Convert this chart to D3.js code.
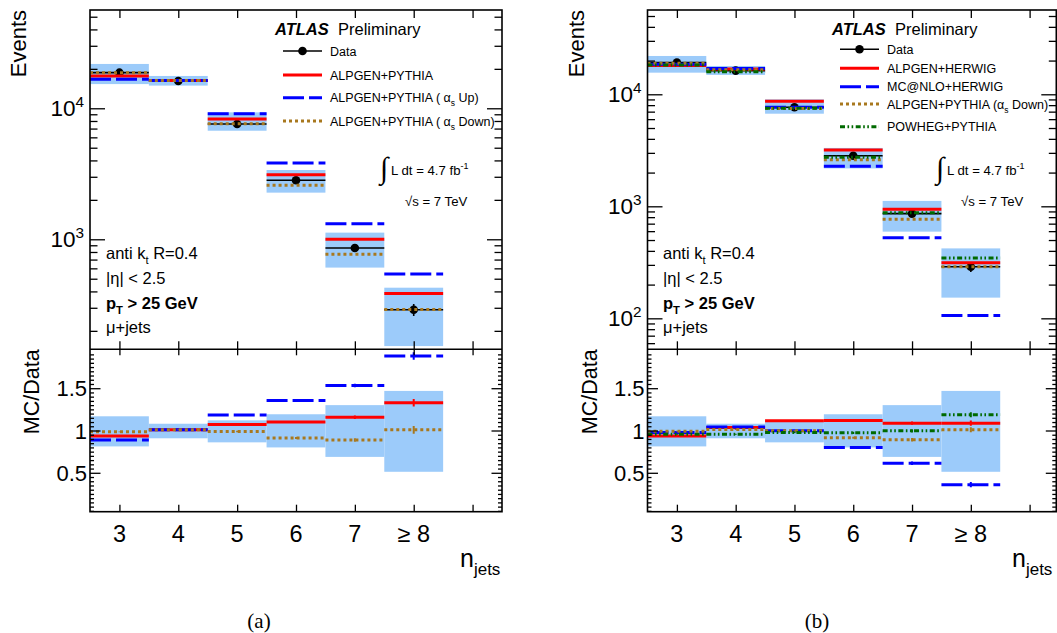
<!DOCTYPE html>
<html><head><meta charset="utf-8">
<script src="https://cdn.jsdelivr.net/npm/d3@7"></script>
<style>
body{margin:0;background:#fff}
svg{display:block}
text{font-family:"Liberation Sans",Arial,Helvetica,sans-serif;fill:#000}
</style>
</head><body>
<svg id="c" width="1057" height="633"></svg>
<script>
// ---------------- DATA ----------------
const binLabels  = ["3","4","5","6","7","\u2265 8"];
const binCenters = [3,4,5,6,7,8];
const xTickValues = [3,4,5,6,7,8,9];
const ratioTickValues = [0.5,1,1.5];
const ratioTickLabels = ["0.5","1","1.5"];

// Panel (a): ALPGEN+PYTHIA and alpha_s variations
const dataA        = [18700,16150,7590,2820,859,290];
const dataErrA     = [140,130,90,55,30,30];
const bandHiA      = [21800,17650,9310,3380,1124,427];
const bandLoA      = [15300,14900,6740,2270,608,153];
const alpPythA     = [17650,16300,8280,3110,1000,385];
const alphaUpA     = [16650,16300,9100,3820,1316,543];
const alphaDownA   = [18700,16300,7620,2580,768,291];

const rBandHi      = [1.168,1.08,1.12,1.192,1.30,1.468];
const rBandLo      = [0.812,0.908,0.86,0.80,0.688,0.512];
const rAlpPythA    = [0.936,1.008,1.072,1.10,1.156,1.328];
const rAlphaUpA    = [0.888,1.008,1.184,1.356,1.532,1.88];
const rAlphaDownA  = [0.984,1.008,0.988,0.912,0.888,1.008];
const rErrA        = [0.005,0.005,0.008,0.012,0.02,0.045];

// Panel (b): generator comparison
const dataB        = [19170,16270,7660,2830,861,289];
const dataErrB     = [140,130,90,55,30,30];
const bandHiB      = [21980,17900,9020,3320,1117,421];
const bandLoB      = [15600,14890,6710,2180,594,153];
const alpHerwB     = [18030,16830,8660,3185,940,314];
const mcnloB       = [18530,16950,7660,2275,525,106];
const alphaDownB   = [18930,16600,7450,2600,765,289];
const powhegB      = [18280,15920,7500,2740,878,346];

const rAlpHerwB    = [0.936,1.036,1.116,1.118,1.087,1.087];
const rMcnloB      = [0.976,1.04,0.996,0.80,0.613,0.36];
const rAlphaDownB  = [0.992,1.012,0.996,0.913,0.89,1.008];
const rPowhegB     = [0.956,0.956,0.976,0.972,0.996,1.186];
const rErrB        = [0.005,0.005,0.008,0.012,0.02,0.03];

// ---------------- STYLES ----------------
const ST = {
  red:   {stroke:"#ff0000", width:3, dash:null},
  blue:  {stroke:"#0000ff", width:3, dash:"21,5"},
  brown: {stroke:"#a8781e", width:3, dash:"3,3"},
  green: {stroke:"#006a00", width:3, dash:"5,2.5,1.6,2.5,1.6,2.5"}
};
const BAND = "#9ccbfa";

const svg = d3.select("#c");

function rich(g, x, y, parts, size, opts={}) {
  const t = g.append("text").attr("x",x).attr("y",y).attr("font-size",size)
    .attr("text-anchor", opts.anchor||"start");
  if (opts.weight) t.attr("font-weight",opts.weight);
  if (opts.style) t.attr("font-style",opts.style);
  if (opts.family) t.style("font-family",opts.family);
  let off = 0;
  parts.forEach(p => {
    const s = typeof p === "string" ? {t:p} : p;
    let target = 0, fs = size;
    if (s.sub) { target = size*0.32; fs = size*0.68; }
    if (s.sup) { target = -size*0.42; fs = size*0.68; }
    const ts = t.append("tspan").text(s.t).attr("font-size",fs).attr("dy", target-off);
    if (s.bold) ts.attr("font-weight","bold");
    off = target;
  });
  return t;
}

function drawPanel(cfg) {
  const g = svg.append("g");
  const x = d3.scaleLinear().domain([2.5,9.5]).range([cfg.left, cfg.xEnd]);
  const y = d3.scaleLog().domain([cfg.yMin,cfg.yMax]).range([cfg.mid,cfg.top]);
  const r = d3.scaleLinear().domain([0.04,1.96]).range([cfg.bottom,cfg.mid]);
  const L = cfg.left, R = cfg.right;

  const clipId = "clip"+cfg.id, clipR = "clipr"+cfg.id;
  g.append("clipPath").attr("id",clipId).append("rect")
    .attr("x",L).attr("y",cfg.top).attr("width",R-L).attr("height",cfg.mid-cfg.top);
  g.append("clipPath").attr("id",clipR).append("rect")
    .attr("x",L).attr("y",cfg.mid).attr("width",R-L).attr("height",cfg.bottom-cfg.mid);

  const up = g.append("g").attr("clip-path",`url(#${clipId})`);
  const lo = g.append("g").attr("clip-path",`url(#${clipR})`);

  // bands
  up.selectAll("rect.band").data(binCenters).join("rect")
    .attr("x",c=>x(c-0.5)).attr("width",c=>x(c+0.5)-x(c-0.5))
    .attr("y",(c,i)=>y(cfg.bandHi[i])).attr("height",(c,i)=>y(cfg.bandLo[i])-y(cfg.bandHi[i]))
    .attr("fill",BAND);
  lo.selectAll("rect.band").data(binCenters).join("rect")
    .attr("x",c=>x(c-0.5)).attr("width",c=>x(c+0.5)-x(c-0.5))
    .attr("y",(c,i)=>r(rBandHi[i])).attr("height",(c,i)=>r(rBandLo[i])-r(rBandHi[i]))
    .attr("fill",BAND);

  // data
  up.selectAll("line.dx").data(binCenters).join("line")
    .attr("x1",c=>x(c-0.5)).attr("x2",c=>x(c+0.5))
    .attr("y1",(c,i)=>y(cfg.data[i])).attr("y2",(c,i)=>y(cfg.data[i]))
    .attr("stroke","#000").attr("stroke-width",1.6);
  up.selectAll("line.dy").data(binCenters).join("line")
    .attr("x1",c=>x(c)).attr("x2",c=>x(c))
    .attr("y1",(c,i)=>y(cfg.data[i]+cfg.dataErr[i])).attr("y2",(c,i)=>y(cfg.data[i]-cfg.dataErr[i]))
    .attr("stroke","#000").attr("stroke-width",1.6);
  up.selectAll("circle.d").data(binCenters).join("circle")
    .attr("cx",c=>x(c)).attr("cy",(c,i)=>y(cfg.data[i])).attr("r",4.3).attr("fill","#000");

  function mcLines(layer, scale, vals, st, errs) {
    const s = layer.append("g");
    s.selectAll("line").data(binCenters).join("line")
      .attr("x1",c=>x(c-0.5)).attr("x2",c=>x(c+0.5))
      .attr("y1",(c,i)=>scale(vals[i])).attr("y2",(c,i)=>scale(vals[i]))
      .attr("stroke",st.stroke).attr("stroke-width",st.width)
      .attr("stroke-dasharray",st.dash);
    if (errs) {
      s.selectAll("line.e").data(binCenters).join("line")
        .attr("x1",c=>x(c)).attr("x2",c=>x(c))
        .attr("y1",(c,i)=>scale(vals[i]+errs[i])).attr("y2",(c,i)=>scale(vals[i]-errs[i]))
        .attr("stroke",st.stroke).attr("stroke-width",2);
    }
  }
  cfg.mc.forEach(m => mcLines(up, y, m.vals, m.st, null));
  cfg.mc.forEach(m => mcLines(lo, r, m.ratio, m.st, cfg.rErr));

  // frame
  const ax = g.append("g");
  ax.append("rect").attr("x",L).attr("y",cfg.top).attr("width",R-L).attr("height",cfg.bottom-cfg.top)
    .attr("fill","none").attr("stroke","#000").attr("stroke-width",1.6);
  ax.append("line").attr("x1",L).attr("x2",R).attr("y1",cfg.mid).attr("y2",cfg.mid)
    .attr("stroke","#000").attr("stroke-width",1.6);

  function axisG(gen, tx, ty) {
    const a = ax.append("g").attr("transform",`translate(${tx},${ty})`).call(gen);
    a.select(".domain").remove();
    a.selectAll("text").remove();
    a.selectAll("line").attr("stroke","#000").attr("stroke-width",1.3);
    return a;
  }
  const xt = xTickValues.filter(v=>x(v)<R);
  axisG(d3.axisTop(x).tickValues(xt).tickSize(-8), 0, cfg.top);
  axisG(d3.axisBottom(x).tickValues(xt).tickSize(-8), 0, cfg.mid);
  axisG(d3.axisTop(x).tickValues(xt).tickSize(-6), 0, cfg.mid);
  axisG(d3.axisBottom(x).tickValues(xt).tickSize(-7), 0, cfg.bottom);

  // log ticks
  const majors = [], minors = [];
  for (let k=1;k<=5;k++) for (let m=1;m<=9;m++) {
    const v = m*Math.pow(10,k);
    if (v<cfg.yMin || v>cfg.yMax) continue;
    (m===1?majors:minors).push(v);
  }
  axisG(d3.axisLeft(y).tickValues(majors).tickSize(-15), L, 0);
  axisG(d3.axisLeft(y).tickValues(minors).tickSize(-7.5), L, 0);
  axisG(d3.axisRight(y).tickValues(majors).tickSize(-15), R, 0);
  axisG(d3.axisRight(y).tickValues(minors).tickSize(-7.5), R, 0);

  const rMinor = d3.range(1,39).map(i=>0.05*i).filter(v=>Math.abs(v*2-Math.round(v*2))>1e-6 && v>0.04 && v<1.96);
  axisG(d3.axisLeft(r).tickValues(ratioTickValues).tickSize(-10.5), L, 0);
  axisG(d3.axisLeft(r).tickValues(rMinor).tickSize(-4), L, 0);
  axisG(d3.axisRight(r).tickValues(ratioTickValues).tickSize(-10.5), R, 0);
  axisG(d3.axisRight(r).tickValues(rMinor).tickSize(-4), R, 0);

  // tick labels
  majors.forEach(v => {
    const e = Math.round(Math.log10(v));
    rich(g, L-6, y(v)+8, ["10",{t:String(e),sup:true}], 22.5, {anchor:"end"});
  });
  ratioTickValues.forEach((v,i) => {
    g.append("text").attr("x",L-3).attr("y",r(v)+8).attr("text-anchor","end")
      .attr("font-size",22).text(ratioTickLabels[i]);
  });
  binCenters.forEach((c,i) => {
    g.append("text").attr("x",x(c)).attr("y",cfg.bottom+30).attr("text-anchor","middle")
      .attr("font-size",23.5).text(binLabels[i]);
  });
  rich(g, cfg.njetsX, 567, ["n",{t:"jets",sub:true}], 25);

  // axis titles
  g.append("text").attr("transform",`translate(${cfg.evX},10) rotate(-90)`)
    .attr("text-anchor","end").attr("font-size",22).text("Events");
  g.append("text").attr("transform",`translate(${cfg.mcX},${cfg.mid}) rotate(-90)`)
    .attr("text-anchor","end").attr("font-size",21.5).text("MC/Data");

  // ATLAS label
  g.append("text").attr("x",cfg.atlasX).attr("y",35).attr("font-size",16.5)
    .attr("font-weight","bold").attr("font-style","italic").text("ATLAS");
  g.append("text").attr("x",cfg.atlasX+63).attr("y",35).attr("font-size",16.5).text("Preliminary");

  // legend
  const lx1 = cfg.legX, lx2 = cfg.legX+39, tx = cfg.legX+47;
  cfg.legend.forEach(item => {
    if (item.data) {
      g.append("line").attr("x1",lx1).attr("x2",lx2).attr("y1",item.y).attr("y2",item.y)
        .attr("stroke","#000").attr("stroke-width",1.6);
      g.append("circle").attr("cx",(lx1+lx2)/2).attr("cy",item.y).attr("r",4.3).attr("fill","#000");
    } else {
      g.append("line").attr("x1",lx1).attr("x2",lx2).attr("y1",item.y).attr("y2",item.y)
        .attr("stroke",item.st.stroke).attr("stroke-width",item.st.width)
        .attr("stroke-dasharray",item.st.dash);
    }
    rich(g, tx, item.y+4.5, item.parts, 12.5);
  });

  // lumi
  g.append("text").attr("x",cfg.intX).attr("y",178).attr("font-size",30).style("font-family","'DejaVu Sans'")
    .attr("font-weight","200").text("\u222B");
  rich(g, cfg.intX+11, 175, ["L dt = 4.7 fb",{t:"-1",sup:true}], 13.2);
  rich(g, cfg.intX+25, 206, ["\u221As = 7 TeV"], 13.2);

  // cuts
  const cx = cfg.cutX;
  rich(g, cx, 259, ["anti k",{t:"t",sub:true}," R=0.4"], 16.5);
  rich(g, cx, 284, ["|\u03B7| < 2.5"], 16.5);
  rich(g, cx, 309, ["p",{t:"T",sub:true}," > 25 GeV"], 16.5, {weight:"bold"});
  rich(g, cx, 333, ["\u03BC+jets"], 16.5);

  g.append("text").attr("x",cfg.capX).attr("y",628).attr("text-anchor","middle")
    .attr("font-size",21).style("font-family","'Liberation Serif','Times New Roman',serif").text(cfg.cap);
}

drawPanel({
  id:"a", left:90, right:502, xEnd:502, top:10, mid:349.3, bottom:511.7,
  yMin:144.6, yMax:56270,
  data:dataA, dataErr:dataErrA, bandHi:bandHiA, bandLo:bandLoA, rErr:rErrA,
  mc:[
    {vals:alpPythA, ratio:rAlpPythA, st:ST.red},
    {vals:alphaUpA, ratio:rAlphaUpA, st:ST.blue},
    {vals:alphaDownA, ratio:rAlphaDownA, st:ST.brown}
  ],
  njetsX:460, evX:25.5, mcX:39, atlasX:275, legX:283,
  legend:[
    {y:51, data:true, parts:["Data"]},
    {y:75, st:ST.red, parts:["ALPGEN+PYTHIA"]},
    {y:97.7, st:ST.blue, parts:["ALPGEN+PYTHIA ( \u03B1",{t:"s",sub:true}," Up)"]},
    {y:121, st:ST.brown, parts:["ALPGEN+PYTHIA ( \u03B1",{t:"s",sub:true}," Down)"]}
  ],
  intX:380, cutX:106, capX:259, cap:"(a)"
});

drawPanel({
  id:"b", left:647.5, right:1056.3, xEnd:1059, top:10, mid:349.3, bottom:511.7,
  yMin:52.9, yMax:56560,
  data:dataB, dataErr:dataErrB, bandHi:bandHiB, bandLo:bandLoB, rErr:rErrB,
  mc:[
    {vals:alpHerwB, ratio:rAlpHerwB, st:ST.red},
    {vals:mcnloB, ratio:rMcnloB, st:ST.blue},
    {vals:alphaDownB, ratio:rAlphaDownB, st:ST.brown},
    {vals:powhegB, ratio:rPowhegB, st:ST.green}
  ],
  njetsX:1012, evX:584, mcX:596.5, atlasX:832, legX:840,
  legend:[
    {y:49.3, data:true, parts:["Data"]},
    {y:68.3, st:ST.red, parts:["ALPGEN+HERWIG"]},
    {y:86.7, st:ST.blue, parts:["MC@NLO+HERWIG"]},
    {y:104, st:ST.brown, parts:["ALPGEN+PYTHIA (\u03B1",{t:"s",sub:true}," Down)"]},
    {y:126.7, st:ST.green, parts:["POWHEG+PYTHIA"]}
  ],
  intX:936, cutX:663, capX:817, cap:"(b)"
});
</script>
</body></html>
